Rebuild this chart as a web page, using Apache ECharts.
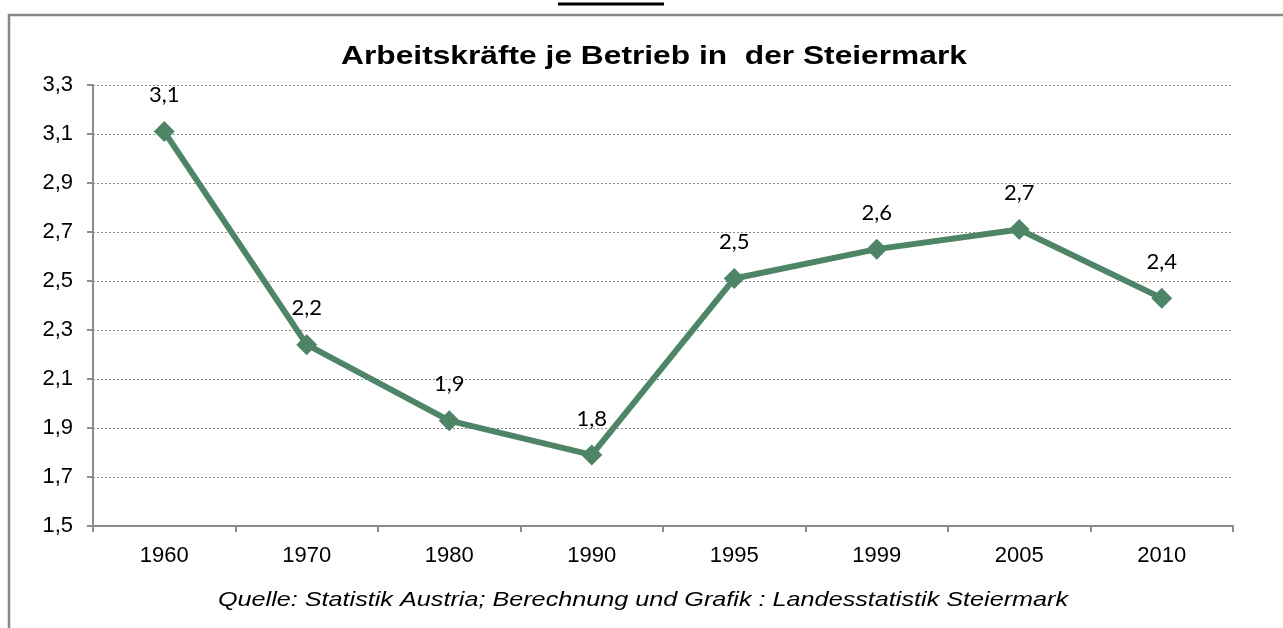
<!DOCTYPE html>
<html>
<head>
<meta charset="utf-8">
<script src="https://cdn.jsdelivr.net/npm/echarts@6/dist/echarts.min.js"></script>
<style>
    html, body { margin: 0; padding: 0; background: #fff; }
    #chart { width: 1283px; height: 628px; }
</style>
</head>
<body>
<div id="chart"></div>
<script>
    // Jahre und Arbeitskräfte je Betrieb
    var years = ['1960', '1970', '1980', '1990', '1995', '1999', '2005', '2010'];
    var values = [3.11, 2.24, 1.93, 1.79, 2.51, 2.63, 2.71, 2.43];
    var yMin = 1.5, yMax = 3.3, yStep = 0.2;

    var titleText = 'Arbeitskräfte je Betrieb in  der Steiermark';
    var sourceText = 'Quelle: Statistik Austria; Berechnung und Grafik : Landesstatistik Steiermark';

    var chart = echarts.init(document.getElementById('chart'));
    var comma = function (v) { return v.toFixed(1).replace('.', ','); };

    var option = {
        backgroundColor: '#fff',
        animation: false,
        grid: { left: 93, right: 50, top: 85, bottom: 102 },
        xAxis: {
            type: 'category',
            data: years,
            boundaryGap: true,
            axisLine: { lineStyle: { color: '#8c8c8c', width: 2 } },
            axisTick: { show: true, length: 6, lineStyle: { color: '#8c8c8c', width: 2 } },
            axisLabel: { fontFamily: 'Liberation Sans', fontSize: 22, color: '#000', margin: 19 }
        },
        yAxis: {
            type: 'value',
            min: yMin, max: yMax, interval: yStep,
            axisLine: { show: true, lineStyle: { color: '#8c8c8c', width: 2 } },
            axisTick: { show: true, inside: false, length: 6, lineStyle: { color: '#8c8c8c', width: 2 } },
            axisLabel: { fontFamily: 'Liberation Sans', fontSize: 22, color: '#000', margin: 20, formatter: comma },
            splitLine: { show: true, lineStyle: { color: '#8a8a8a', type: [2, 2], width: 1 } }
        },
        series: [
            {
                type: 'line',
                data: values,
                symbol: 'diamond',
                symbolSize: 21,
                lineStyle: { color: '#4d8566', width: 6 },
                itemStyle: { color: '#4d8566' },
                label: {
                    show: true, position: 'top', distance: 15,
                    fontFamily: 'Lato', fontSize: 22, color: '#000',
                    formatter: function (p) { return comma(p.value); }
                }
            }
        ],
        graphic: [
            {
                type: 'rect', silent: true,
                shape: { x: 9, y: 15, width: 1400, height: 800 },
                style: { fill: 'none', stroke: '#888', lineWidth: 2.5 }
            },
            {
                type: 'line', silent: true,
                shape: { x1: 558, y1: 4, x2: 664, y2: 4 },
                style: { stroke: '#000', lineWidth: 3 }
            },
            {
                type: 'text', silent: true,
                x: 654, y: 57, scaleX: 1.22,
                style: {
                    text: titleText, align: 'center', verticalAlign: 'middle',
                    font: 'bold 26px "Liberation Sans"', fill: '#000'
                }
            },
            {
                type: 'text', silent: true,
                x: 643, y: 600, scaleX: 1.2,
                style: {
                    text: sourceText, align: 'center', verticalAlign: 'middle',
                    font: 'italic 21px "Liberation Sans"', fill: '#000'
                }
            }
        ]
    };
    chart.setOption(option);
</script>
</body>
</html>
